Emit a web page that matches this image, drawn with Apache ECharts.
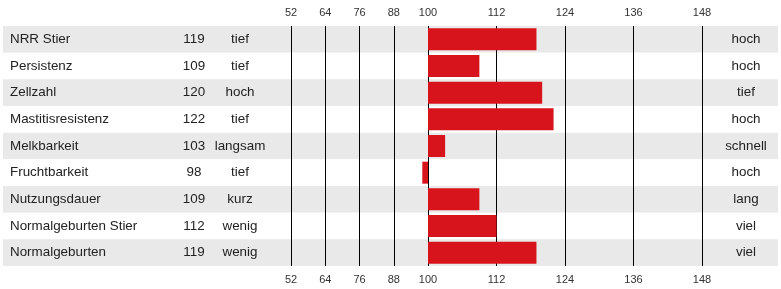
<!DOCTYPE html>
<html>
<head>
<meta charset="utf-8">
<script src="https://cdn.jsdelivr.net/npm/echarts@6/dist/echarts.min.js"></script>
<style>
  html, body { margin: 0; padding: 0; background: #fff; }
  #chart { width: 781px; height: 289px; }
</style>
</head>
<body>
<div id="chart"></div>
<script>
  // merkmale, zuchtwerte und beschriftung beider seiten
  var categories = ['NRR Stier', 'Persistenz', 'Zellzahl', 'Mastitisresistenz', 'Melkbarkeit',
    'Fruchtbarkeit', 'Nutzungsdauer', 'Normalgeburten Stier', 'Normalgeburten'];
  var values = [119, 109, 120, 122, 103, 98, 109, 112, 119];
  var lowLabels = ['tief', 'tief', 'hoch', 'tief', 'langsam', 'tief', 'kurz', 'wenig', 'wenig'];
  var highLabels = ['hoch', 'hoch', 'tief', 'hoch', 'schnell', 'hoch', 'lang', 'viel', 'viel'];
  var leftTicks = [52, 64, 76, 88, 100];
  var rightTicks = [100, 112, 124, 136, 148];
  var BASE = 100;

  var font = 'Liberation Sans, Arial, sans-serif';
  var red = '#d7141c';

  var chart = echarts.init(document.getElementById('chart'));

  function xAxisFor(grid, ticks, pos, lines, hideMin) {
    return {
      type: 'value', gridIndex: grid, position: pos,
      min: ticks[0], max: ticks[ticks.length - 1], interval: ticks[1] - ticks[0],
      axisLine: { show: false }, axisTick: { show: false },
      axisLabel: { show: true, margin: 8, fontSize: 11, color: '#333', fontFamily: font, showMinLabel: !hideMin },
      splitLine: { show: lines, lineStyle: { color: '#000', width: 1 } }
    };
  }

  function catAxis(grid, data, pos, margin, align, inside) {
    return {
      type: 'category', gridIndex: grid, position: pos, inverse: true, data: data,
      axisLine: { show: false }, axisTick: { show: false },
      axisLabel: {
        margin: margin, align: align, inside: !!inside, padding: [3, 0, 0, 0],
        fontSize: 13.4, color: '#222', fontFamily: font
      },
      splitLine: { show: false }
    };
  }

  var below = values.map(function (v) { return v < BASE ? v : '-'; });
  var belowGap = values.map(function (v) { return v < BASE ? BASE - v : '-'; });
  var above = values.map(function (v) { return v >= BASE ? v : '-'; });

  var yBg = catAxis(0, categories, 'left', 7, 'left', true);
  yBg.splitArea = { show: true, areaStyle: { color: ['#e9e9e9', '#ffffff'] } };
  yBg.z = -1;

  chart.setOption({
    animation: false,
    grid: [
      { left: 3, right: 3, top: 26, height: 240 },
      { left: 291, width: 137, top: 26, height: 240 },
      { left: 428, width: 274, top: 26, height: 240 }
    ],
    xAxis: [
      { type: 'value', gridIndex: 0, show: false },
      xAxisFor(1, leftTicks, 'top', true, false),
      xAxisFor(1, leftTicks, 'bottom', false, false),
      xAxisFor(2, rightTicks, 'top', true, true),
      xAxisFor(2, rightTicks, 'bottom', false, true)
    ],
    yAxis: [
      yBg,
      catAxis(1, values.map(String), 'left', 97, 'center'),
      catAxis(1, lowLabels, 'left', 51, 'center'),
      catAxis(2, highLabels, 'right', 44, 'center')
    ],
    series: [
      {
        type: 'bar', xAxisIndex: 1, yAxisIndex: 1, stack: 'l', data: below,
        barWidth: 22, itemStyle: { color: 'transparent' }, silent: true
      },
      {
        type: 'bar', xAxisIndex: 1, yAxisIndex: 1, stack: 'l', data: belowGap,
        barWidth: 22, itemStyle: { color: red }
      },
      {
        type: 'bar', xAxisIndex: 3, yAxisIndex: 3, data: above,
        barWidth: 22, itemStyle: { color: red }
      }
    ]
  });
</script>
</body>
</html>
